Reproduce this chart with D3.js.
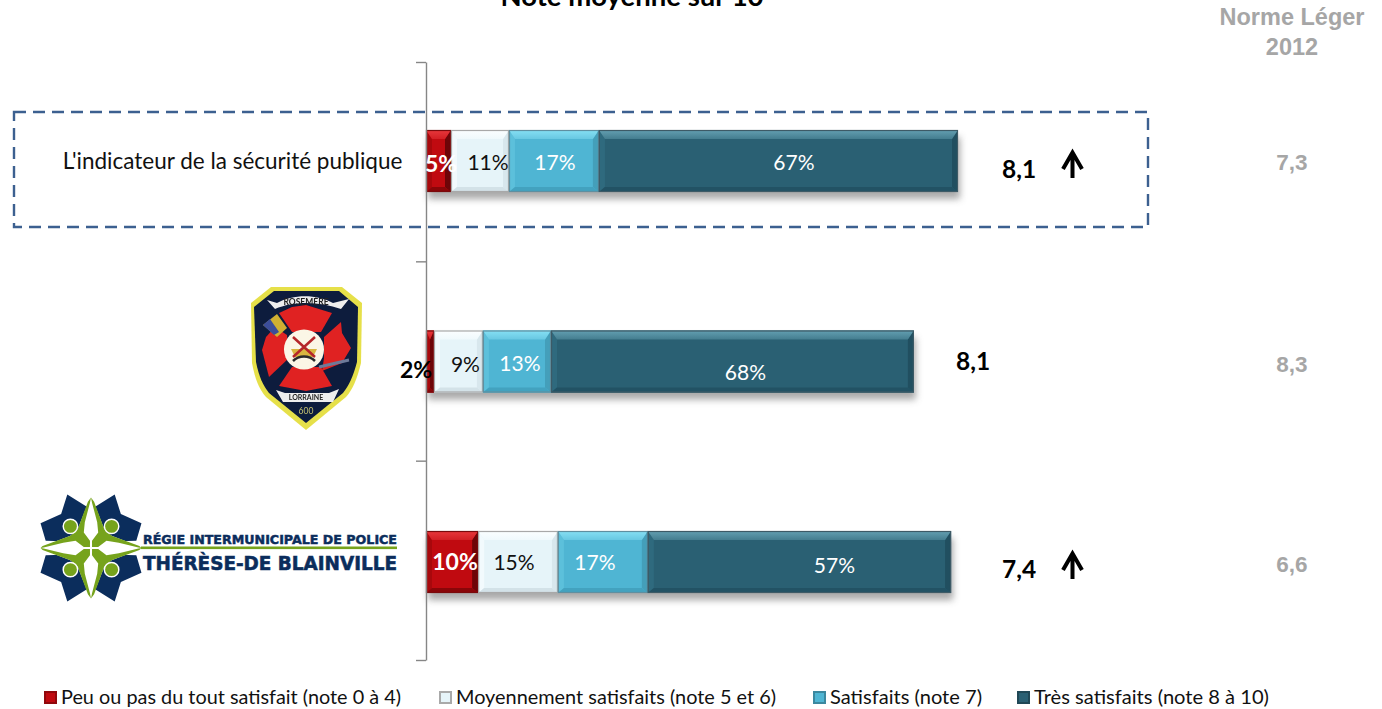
<!DOCTYPE html>
<html><head><meta charset="utf-8"><script src="https://cdn.jsdelivr.net/npm/d3@7/dist/d3.min.js"></script>
<style>html,body{margin:0;background:#fff;overflow:hidden}svg{display:block}text{font-family:Lato,"Open Sans",sans-serif}</style></head>
<body><svg id="c" width="1382" height="709"></svg>
<script>
const categories=["securite","incendie","police"];
const seriesNames=["Peu ou pas du tout satisfait (note 0 à 4)","Moyennement satisfaits (note 5 et 6)","Satisfaits (note 7)","Très satisfaits (note 8 à 10)"];
const peu=[4.7,1.5,9.8];
const moyen=[10.9,9.2,15.0];
const satisfaits=[16.9,12.8,16.9];
const tres=[67.5,68.2,57.0];
const peuLabels=["5%","2%","10%"];
const moyenLabels=["11%","9%","15%"];
const satisfaitsLabels=["17%","13%","17%"];
const tresLabels=["67%","68%","57%"];
const notes=["8,1","8,1","7,4"];
const arrows=[true,false,true];
const normes=["7,3","8,3","6,6"];

const svg=d3.select("#c");
const x=d3.scaleLinear().domain([0,100]).range([426,958]);
const y=d3.scalePoint().domain(categories).range([161,562]);
const bw=62;
const cy=c=>y(c);
const colors=[
 {face:"#c00a10",top:"#e8383c",bot:"#8a0609",left:"#a8080c",right:"#6e0508",edge:"#7a0a0c"},
 {face:"#e6f4f9",top:"#fbfeff",bot:"#d3e2e8",left:"#f2fafd",right:"#d8e7ed",edge:"#a8a8a8"},
 {face:"#4fb5d3",top:"#86e0f4",bot:"#43a2bf",left:"#5cc0db",right:"#449fba",edge:"#5f8fa0"},
 {face:"#2a6073",top:"#64a0b2",bot:"#225264",left:"#2f6a7e",right:"#214f60",edge:"#3d5a66"}];
const defs=svg.append("defs");
const sh=defs.append("filter").attr("id","sh").attr("x","-5%").attr("y","-30%").attr("width","110%").attr("height","170%");
sh.append("feGaussianBlur").attr("stdDeviation",3.5);
const soft=defs.append("filter").attr("id","soft");soft.append("feGaussianBlur").attr("stdDeviation",0.45);
colors.forEach((c,i)=>{
 const g=defs.append("linearGradient").attr("id","top"+i).attr("x1",0).attr("x2",0).attr("y1",0).attr("y2",1);
 g.append("stop").attr("offset",0).attr("stop-color",c.top);
 g.append("stop").attr("offset",1).attr("stop-color",d3.interpolateRgb(c.top,c.face)(.55));
});

// title & right header
svg.append("text").attr("x",632).attr("y",6).attr("text-anchor","middle").attr("font-size",27.5).attr("font-weight",700).text("Note moyenne sur 10");
const hdr=svg.append("g").attr("font-size",23.5).attr("font-weight",700).attr("fill","#a6a6a6").attr("text-anchor","middle");
hdr.append("text").attr("x",1292).attr("y",25).style("font-family","'Liberation Sans'").text("Norme Léger");
hdr.append("text").attr("x",1292).attr("y",55).style("font-family","'Liberation Sans'").text("2012");

// dashed box
svg.append("rect").attr("x",14).attr("y",112).attr("width",1134).attr("height",115).attr("fill","none").attr("stroke","#3c6090").attr("stroke-width",2.4).attr("stroke-dasharray","12 7");

// shadows
const rows=categories.map((c,i)=>({c,i,vals:[peu[i],moyen[i],satisfaits[i],tres[i]]}));
svg.append("g").selectAll("rect").data(rows).join("rect")
 .attr("x",d=>x(0)+2).attr("y",d=>cy(d.c)-bw/2+7)
 .attr("width",d=>x(d3.sum(d.vals))-x(0)).attr("height",bw)
 .attr("fill","#555").attr("opacity",.5).attr("filter","url(#sh)");

// segments
const g=svg.append("g");
rows.forEach(r=>{
 let acc=0;
 r.vals.forEach((v,k)=>{
  const x0=x(acc),x1=x(acc+v),t=cy(r.c)-bw/2,b=t+bw,col=colors[k];
  const be=Math.min(6,(x1-x0)/2),tb=9,bb=5;
  const s=g.append("g").attr("class","seg");
  s.append("rect").attr("x",x0).attr("y",t).attr("width",x1-x0).attr("height",bw).attr("fill",col.face);
  s.append("polygon").attr("points",[[x0,t],[x0+be,t+tb],[x0+be,b-bb],[x0,b]].join(" ")).attr("fill",col.left);
  s.append("polygon").attr("points",[[x1,t],[x1-be,t+tb],[x1-be,b-bb],[x1,b]].join(" ")).attr("fill",col.right);
  s.append("polygon").attr("points",[[x0,b],[x1,b],[x1-be,b-bb],[x0+be,b-bb]].join(" ")).attr("fill",col.bot);
  s.append("polygon").attr("points",[[x0,t],[x1,t],[x1-be,t+tb],[x0+be,t+tb]].join(" ")).attr("fill",`url(#top${k})`);
  s.append("rect").attr("x",x0+.5).attr("y",t+.5).attr("width",x1-x0-1).attr("height",bw-1).attr("fill","none").attr("stroke",col.edge).attr("stroke-width",1.2);
  acc+=v;
 });
});

// axis
const axisScale=d3.scaleLinear().domain([0,3]).range([62,660]);
const ax=svg.append("g").attr("transform","translate(426,0)").call(d3.axisLeft(axisScale).tickValues([0,1,2,3]).tickFormat("").tickSize(10).tickSizeOuter(0));
ax.selectAll("line,path").attr("stroke","#868686").attr("stroke-width",1.4);

// labels
const segLabel=(arr,pos,fill,bold,fs,dy)=>svg.append("g").selectAll("text").data(rows).join("text")
 .attr("x",pos).attr("y",(d,i)=>cy(d.c)+dy[i]).attr("fill",fill).attr("text-anchor","middle")
 .attr("font-size",fs).attr("font-weight",bold?700:400).text((d,i)=>arr[i]);
svg.append("g").selectAll("text").data(rows).join("text")
 .attr("x",(d,i)=>[441,416,455][i]).attr("y",(d,i)=>cy(d.c)+[11,16,8][i])
 .attr("fill",(d,i)=>i==1?"#000":"#fff").attr("text-anchor","middle").attr("font-size",23).attr("font-weight",700).text((d,i)=>peuLabels[i]);
segLabel(moyenLabels,d=>x(d.vals[0]+d.vals[1]/2)+[8,7,-4][d.i],"#111",false,21,[9,10,8]);
segLabel(satisfaitsLabels,d=>x(d.vals[0]+d.vals[1]+d.vals[2]/2)+[1,3,-8][d.i],"#fff",false,21,[9,9,8]);
segLabel(tresLabels,d=>x(d.vals[0]+d.vals[1]+d.vals[2]+d.vals[3]/2)+[15.5,13,35][d.i],"#fff",false,21,[9,18,11]);

// note values
svg.append("g").selectAll("text").data(rows).join("text")
 .attr("x",(d,i)=>[1002,956,1002][i]).attr("y",(d,i)=>cy(d.c)+[17,8,16][i])
 .attr("text-anchor","start").attr("font-size",24.5).attr("font-weight",700).text((d,i)=>notes[i]);
// arrows
const ag=svg.append("g").selectAll("g").data(rows.filter(r=>arrows[r.i])).join("g")
 .attr("transform",d=>`translate(1072.5,${cy(d.c)+3})`);
ag.append("path").attr("d","M0 14V-12M-9.5 5L0 -11.5L9.5 5").attr("fill","none").attr("stroke","#000").attr("stroke-width",4);
// norms
svg.append("g").selectAll("text").data(rows).join("text").attr("x",1292).attr("y",(d,i)=>cy(d.c)+[9,10,10][i])
 .attr("text-anchor","middle").attr("font-size",22.5).attr("font-weight",700).attr("fill","#a6a6a6").style("font-family","'Liberation Sans'").text((d,i)=>normes[i]);

// row 1 label
svg.append("text").attr("x",232.5).attr("y",169).attr("text-anchor","middle").attr("font-size",22.5).attr("fill","#111").text("L'indicateur de la sécurité publique");

// legend
const legendX=[45,440,814,1018],legendW=[340,320,152,235];
const lg=svg.append("g").selectAll("g").data(seriesNames).join("g");
lg.append("rect").attr("x",(d,i)=>legendX[i]).attr("y",692).attr("width",11).attr("height",11).attr("fill",(d,i)=>colors[i].face).attr("stroke",(d,i)=>i==1?"#a9a9a9":d3.color(colors[i].face).darker(.8)).attr("stroke-width",2);
lg.append("text").attr("x",(d,i)=>legendX[i]+16).attr("y",704).attr("font-size",19).attr("fill","#111").attr("textLength",(d,i)=>legendW[i]).attr("lengthAdjust","spacingAndGlyphs").text(d=>d);

// Rosemère / Lorraine badge
const b=svg.append("g").attr("transform","translate(249,287)").attr("filter","url(#soft)");
b.append("path").attr("d","M2 16L22 0H93L113 16L112 76C108 92 104 102 97 110L57 143L17 110C10 102 6 92 3 76Z").attr("fill","#e6e04a");
b.append("path").attr("d","M5 20L25 4H90L109 20L108 75C104 90 100 98 94 106L57 136L20 106C14 98 10 90 7 75Z").attr("fill","#0c1a3e");
const red="#e02222";
["M30 26L43 20L57 18L83 26L72 45L43 45Z","M75 50L92 35L93 46L102 61L93 76L73 84L75 71Z","M43 80H72L83 99L57 104L30 99Z","M38 48L40 71L20 90L13 63L17 50L26 40Z"].forEach(p=>b.append("path").attr("d",p).attr("fill",red));
b.append("circle").attr("cx",55).attr("cy",62.5).attr("r",20).attr("fill","#fbf6e6");
b.append("path").attr("d","M42 62H68L64 70H46Z").attr("fill","#d9b640");
b.append("path").attr("d","M44 50L66 70M66 50L44 70").attr("stroke","#b5252a").attr("stroke-width",2.5);
b.append("path").attr("d","M44 74C50 68 60 68 66 74").attr("stroke","#2b2b2b").attr("stroke-width",2.5).attr("fill","none");
b.append("path").attr("d","M18 13L28 16C44 7 68 7 84 16L100 12L92 22C70 14 44 14 26 22Z").attr("fill","#eee");
b.append("path").attr("d","M27 103L36 106H80L90 102L84 115H34Z").attr("fill","#eee");
b.append("path").attr("d","M14 38L28 27L38 41L28 50Z").attr("fill","#d0b030");
b.append("path").attr("d","M14 38L21 32L30 45L25 48Z").attr("fill","#3a4d9a");
b.append("path").attr("d","M70 80L100 73").attr("stroke","#6d7a9a").attr("stroke-width",3);
b.append("text").attr("x",57).attr("y",18).attr("text-anchor","middle").attr("font-size",8.5).attr("font-weight",700).attr("fill","#222").text("ROSEMÈRE");
b.append("text").attr("x",57).attr("y",113).attr("text-anchor","middle").attr("font-size",7).attr("font-weight",700).attr("fill","#222").text("LORRAINE");
b.append("text").attr("x",57).attr("y",127).attr("text-anchor","middle").attr("font-size",8.5).attr("fill","#c9c470").text("600");

// Régie logo
const navy="#0b2d5c",green="#76a31c";
const l=svg.append("g");
const st=l.append("g").attr("transform","translate(91,548) scale(1.03)");
const quads=[[1,1],[-1,1],[1,-1],[-1,-1]];
quads.forEach(([sx,sy])=>st.append("path").attr("transform",`scale(${sx},${sy})`)
 .attr("d","M4 -40L23 -52L29 -33L49 -24L44 -7L10 -6Z").attr("fill",navy));
st.append("path").attr("d","M0 -51L13 -18L20 -12L51 0L20 12L13 18L0 51L-13 18L-20 12L-51 0L-20 -12L-13 -18Z").attr("fill","#fff");
quads.forEach(([sx,sy])=>{
 const q=st.append("g").attr("transform",`scale(${sx},${sy})`);
 q.append("path").attr("d","M0 -49L3 -45L13 -18L20 -12L47 -2L49 0L46 -.6L27 -5L15 -7L7 -1L1 -1L1 -7L7 -15L6 -25L1 -44Z").attr("fill",green);
 q.append("circle").attr("cx",20).attr("cy",-21).attr("r",7).attr("fill",green).attr("stroke","#fff").attr("stroke-width",1.4);
});
l.append("rect").attr("x",141).attr("y",546.5).attr("width",256).attr("height",2.6).attr("fill",green);
l.append("text").attr("x",143).attr("y",544).attr("font-size",13).attr("font-weight",900).attr("fill",navy).attr("textLength",254).attr("lengthAdjust","spacingAndGlyphs").style("font-family","'DejaVu Sans'").attr("stroke",navy).attr("stroke-width",.5).text("RÉGIE INTERMUNICIPALE DE POLICE");
l.append("text").attr("x",143).attr("y",570).attr("font-size",20).attr("font-weight",900).attr("fill",navy).attr("textLength",254).attr("lengthAdjust","spacingAndGlyphs").style("font-family","'DejaVu Sans'").attr("stroke",navy).attr("stroke-width",.6).text("THÉRÈSE-DE BLAINVILLE");
</script></body></html>
